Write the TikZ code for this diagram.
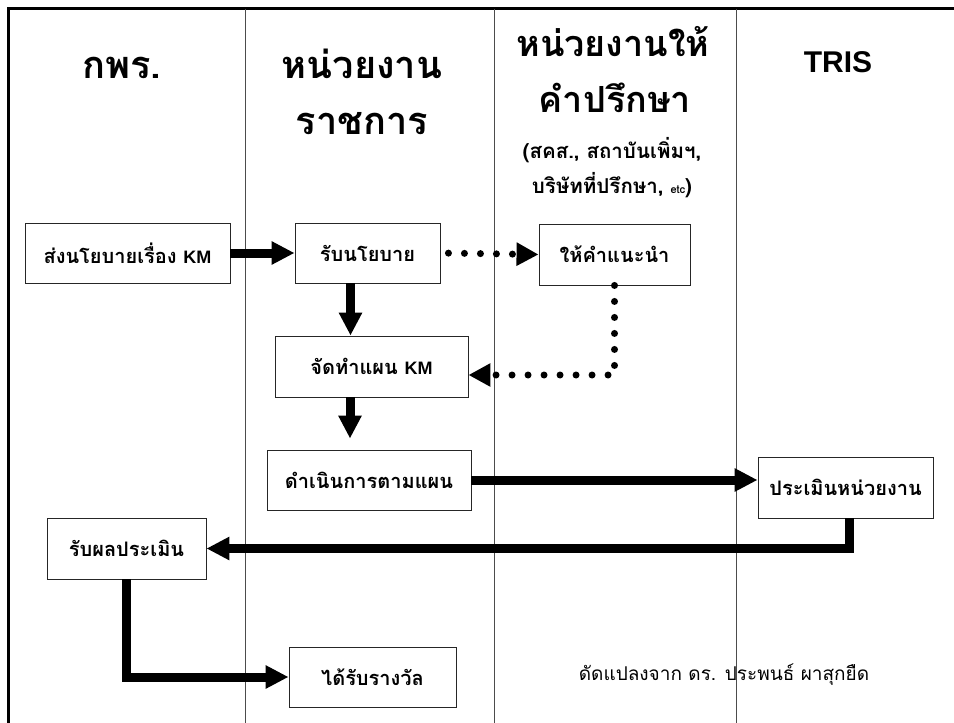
\documentclass[tikz,border=0pt]{standalone}
\usepackage{fontspec}
\setmainfont{Liberation Sans}
\newfontfamily\thai[Script=Thai]{Loma}
\usetikzlibrary{arrows.meta,calc}
\tikzset{
  box/.style={draw=black!85, line width=0.9pt, rectangle, inner sep=0pt, fill=white, font=\thai\bfseries\fontsize{20}{24}\selectfont},
  thickarrow/.style={line width=9pt, -{Triangle[length=23pt,width=22pt]}},
  dotarrow/.style={line width=7pt, line cap=round, dash pattern=on 0pt off 16pt, -{Triangle[length=22pt,width=22pt]}},
  lane/.style={line width=0.9pt, draw=black!70},
  head/.style={font=\thai\bfseries\fontsize{38}{44}\selectfont, align=center},
  subhead/.style={font=\thai\bfseries\fontsize{20.5}{24}\selectfont}
}
\begin{document}
\begin{tikzpicture}[x=1pt,y=-1pt]
\useasboundingbox (0,0) rectangle (954,723);
% frame
\draw[line width=3pt] (8,723) -- (8,8) -- (954,8);
% lanes
\draw[lane] (245,9) -- (245,723);
\draw[lane] (494,9) -- (494,723);
\draw[lane] (736,9) -- (736,723);
% headers
\node[head] (h1) at (122,68) {กพร.};
\node[head] (h2a) at (362,64) {หน่วยงาน};
\node[head] (h2b) at (362,124) {ราชการ};
\node[head, font=\thai\bfseries\fontsize{36}{42}\selectfont] (h3a) at (613,42) {หน่วยงานให้};
\node[head, font=\thai\bfseries\fontsize{36}{42}\selectfont] (h3b) at (615,98) {คำปรึกษา};
\node[subhead] (h3c) at (612,150) {(สคส., สถาบันเพิ่มฯ,};
\node[subhead] (h3d) at (612,185) {บริษัทที่ปรึกษา, {\fontsize{11}{13}\selectfont etc})};
\node[font=\bfseries\fontsize{30}{36}\selectfont] (h4) at (838,62) {TRIS};
% boxes
\node[box, minimum width=205pt, minimum height=60pt] (b1) at (127.5,253) {ส่งนโยบายเรื่อง {\rmfamily\bfseries\fontsize{18}{22}\selectfont KM}};
\node[box, minimum width=145pt, minimum height=60pt] (b2) at (367.5,253) {รับนโยบาย};
\node[box, minimum width=151pt, minimum height=61pt] (b3) at (614.5,254.5) {ให้คำแนะนำ};
\node[box, minimum width=193pt, minimum height=61pt] (b4) at (371.5,366.5) {จัดทำแผน {\rmfamily\bfseries\fontsize{18}{22}\selectfont KM}};
\node[box, minimum width=204pt, minimum height=60pt] (b5) at (369,480) {ดำเนินการตามแผน};
\node[box, minimum width=175pt, minimum height=61pt] (b6) at (845.5,487.5) {ประเมินหน่วยงาน};
\node[box, minimum width=159pt, minimum height=61pt] (b7) at (126.5,548.5) {รับผลประเมิน};
\node[box, minimum width=167pt, minimum height=60pt] (b8) at (372.5,677) {ได้รับรางวัล};
% footnote
\node[font=\thai\fontsize{19}{23}\selectfont] (note) at (724,675) {ดัดแปลงจาก ดร. ประพนธ์ ผาสุกยืด};
% connectors
\draw[thickarrow] (b1.east) -- (b2.west);
\draw[thickarrow] ([xshift=-17pt]b2.south) -- ([xshift=-17pt]b2.south |- b4.north);
\draw[thickarrow, shorten >=11pt] ([xshift=-21.5pt]b4.south) -- ([xshift=-21.5pt]b4.south |- b5.north);
\draw[thickarrow] (b5.east) -- (b5.east -| b6.west);
\draw[thickarrow] ([xshift=4pt]b6.south) |- (b7.east);
\draw[thickarrow] (b7.south) |- (b8.west);
\draw[dotarrow, shorten <=8pt] (b2.east) -- (b3.west);
\draw[dotarrow] (b3.south) |- ([yshift=-8.5pt]b4.east);
\end{tikzpicture}
\end{document}
